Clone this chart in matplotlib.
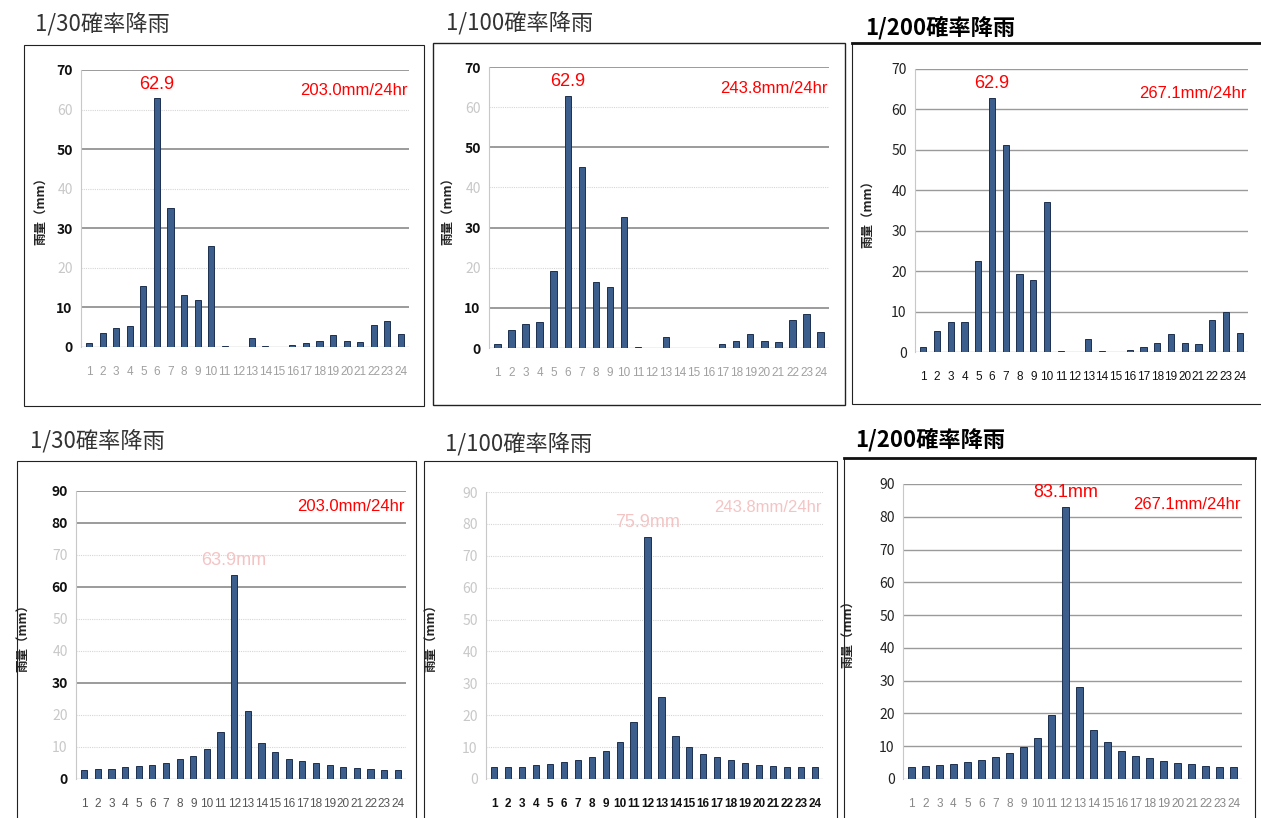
import matplotlib
matplotlib.use('Agg')
import matplotlib.pyplot as plt
from matplotlib.patches import Rectangle

plt.rcParams['font.family'] = ['Noto Sans CJK JP', 'DejaVu Sans']

# HOURLY RAINFALL DATA (mm per hour, hours 1-24)

hours = list(range(1, 25))

# Top row: observed pattern scaled to each return period
rain_30_top = [1.0, 3.6, 4.9, 5.2, 15.3, 62.9, 35.0, 13.1, 11.8, 25.5, 0.2, 0.0,
               2.3, 0.2, 0.0, 0.6, 1.0, 1.6, 3.0, 1.6, 1.3, 5.5, 6.5, 3.2]
rain_100_top = [1.1, 4.6, 6.0, 6.4, 19.3, 62.9, 45.2, 16.5, 15.2, 32.6, 0.2, 0.0,
                2.7, 0.1, 0.0, 0.1, 1.1, 1.7, 3.6, 1.7, 1.6, 7.0, 8.5, 3.9]
rain_200_top = [1.3, 5.3, 7.4, 7.4, 22.5, 62.9, 51.3, 19.3, 17.8, 37.1, 0.3, 0.0,
                3.1, 0.3, 0.0, 0.4, 1.3, 2.3, 4.4, 2.3, 1.9, 8.0, 10.0, 4.6]

# Bottom row: centred (design storm) pattern
rain_30_bot = [2.9, 3.2, 3.2, 3.8, 4.2, 4.5, 5.0, 6.2, 7.1, 9.5, 14.7, 63.9,
               21.3, 11.4, 8.3, 6.4, 5.6, 5.0, 4.4, 3.8, 3.5, 3.2, 2.9, 2.9]
rain_100_bot = [3.7, 3.9, 3.9, 4.4, 4.7, 5.3, 5.9, 7.0, 8.8, 11.5, 17.8, 75.9,
                25.8, 13.6, 10.1, 7.7, 6.8, 5.9, 5.0, 4.5, 4.1, 3.9, 3.7, 3.7]
rain_200_bot = [3.8, 4.0, 4.4, 4.7, 5.3, 5.9, 6.6, 7.9, 9.7, 12.5, 19.5, 83.1,
                28.0, 14.8, 11.2, 8.4, 7.1, 6.3, 5.5, 5.0, 4.6, 4.0, 3.8, 3.8]

titles = ['1/30確率降雨', '1/100確率降雨', '1/200確率降雨']
totals = ['203.0mm/24hr', '243.8mm/24hr', '267.1mm/24hr']
ylabel = '雨量（mm）'

W, H = 1261, 818
fig = plt.figure(figsize=(W / 100, H / 100), dpi=100)
fig.patch.set_facecolor('white')

BAR = '#3b5e8c'
EDGE = '#1e3050'
NARROW = ['Liberation Sans Narrow', 'Liberation Sans', 'DejaVu Sans']


def px_axes(l, t, r, b):
    # axes placed by pixel edges (left, top, right, bottom)
    return fig.add_axes([l / W, 1 - b / H, (r - l) / W, (b - t) / H])


def px_box(l, t, r, b, lw=0.8, top_lw=None):
    fig.add_artist(Rectangle((l / W, 1 - b / H), (r - l) / W, (b - t) / H,
                             transform=fig.transFigure, fill=False,
                             ec='#222222', lw=lw))
    if top_lw:
        fig.add_artist(plt.Line2D([l / W, r / W], [1 - t / H, 1 - t / H],
                                  transform=fig.transFigure, color='#111111', lw=top_lw))


def panel(ax, values, ymax, strong, tick_col, xtick_col, xtick_weight,
          peak_text, peak_col, total, total_col, total_y, ylab_x):
    x = hours
    ax.bar(x, values, width=0.45, color=BAR, edgecolor=EDGE, linewidth=0.7, zorder=3)
    ax.set_xlim(0.4, 24.6)
    ax.set_ylim(0, ymax)
    ticks = list(range(0, ymax + 1, 10))
    ax.set_yticks(ticks)
    ax.set_yticklabels([str(t) for t in ticks])
    for t, lab in zip(ticks, ax.get_yticklabels()):
        if strong is None:
            lab.set_color(tick_col)
        elif t in strong:
            lab.set_color('#111111')
            lab.set_fontweight('bold')
        else:
            lab.set_color('#c8c8c8')
        lab.set_fontsize(10)
    # gridlines drawn by hand so each level can have its own weight
    for t in ticks[1:]:
        if strong is None:
            ax.axhline(t, color='#9a9a9a', lw=1.0, zorder=1)
        elif t in strong:
            ax.axhline(t, color='#8a8a8a', lw=1.2, zorder=1)
        else:
            ax.axhline(t, color='#d6d6d6', lw=0.8, ls=(0, (1, 1)), zorder=1)
    ax.axhline(0, color='#bbbbbb', lw=1.0, zorder=2)
    ax.set_xticks(x)
    ax.set_xticklabels([str(h) for h in x], fontsize=8.5, color=xtick_col,
                       fontweight=xtick_weight, family=NARROW)
    ax.tick_params(axis='both', length=0, pad=6)
    ax.tick_params(axis='x', pad=14)
    for s in ['top', 'right', 'bottom']:
        ax.spines[s].set_visible(False)
    ax.spines['left'].set_color('#c8c8c8')
    ax.spines['left'].set_linewidth(0.8)
    ax.set_facecolor('none')

    # annotations
    i = values.index(max(values))
    if peak_text:
        ax.text(x[i], max(values) + ymax * 0.02, peak_text, ha='center', va='bottom',
                color=peak_col, fontsize=13, family=NARROW)
    ax.text(0.995, total_y, total, transform=ax.transAxes, ha='right', va='center',
            color=total_col, fontsize=12, family=NARROW)
    ax.text(ylab_x, 0.5, ylabel, transform=ax.transAxes, rotation=90,
            ha='center', va='center', fontsize=9, fontweight='bold', color='#222222')


# --- top row ---
px_box(24, 45, 424, 406)
px_box(433, 43, 845, 405, lw=1.0)
px_box(852, 43, 1262, 404, top_lw=2.0)

ax1 = px_axes(81, 70, 409, 347)
panel(ax1, rain_30_top, 70, {70, 50, 30, 10, 0}, None, '#a0a0a0', 'normal',
      '62.9', 'red', totals[0], 'red', 0.925, -0.12)
ax2 = px_axes(489, 67, 829, 348)
panel(ax2, rain_100_top, 70, {70, 50, 30, 10, 0}, None, '#a0a0a0', 'normal',
      '62.9', 'red', totals[1], 'red', 0.925, -0.12)
ax3 = px_axes(915, 69, 1248, 352)
panel(ax3, rain_200_top, 70, None, '#222222', '#111111', 'normal',
      '62.9', 'red', totals[2], 'red', 0.915, -0.14)

fig.text(35 / W, 1 - 25 / H, titles[0], fontsize=16, color='#333333', va='center')
fig.text(446 / W, 1 - 24 / H, titles[1], fontsize=16, color='#333333', va='center')
fig.text(865 / W, 1 - 28 / H, titles[2], fontsize=16, color='#000000', va='center',
         fontweight='bold')

# --- bottom row ---
px_box(17, 461, 416, 830)
px_box(424, 461, 837, 830)
px_box(844, 458, 1255, 830, top_lw=2.0)

ax4 = px_axes(76, 491, 406, 779)
panel(ax4, rain_30_bot, 90, {90, 80, 60, 30, 0}, None, '#555555', 'normal',
      '%.1fmm' % max(rain_30_bot), '#f4c4c4', totals[0], 'red', 0.945, -0.16)
ax5 = px_axes(486, 492, 823, 779)
panel(ax5, rain_100_bot, 90, set(), None, '#111111', 'bold',
      '%.1fmm' % max(rain_100_bot), '#f4c4c4', totals[1], '#f4c4c4', 0.945, -0.16)
ax6 = px_axes(903, 484, 1242, 779)
panel(ax6, rain_200_bot, 90, None, '#222222', '#888888', 'normal',
      '%.1fmm' % max(rain_200_bot), 'red', totals[2], 'red', 0.93, -0.16)

fig.text(30 / W, 1 - 442 / H, titles[0], fontsize=16, color='#333333', va='center')
fig.text(445 / W, 1 - 445 / H, titles[1], fontsize=16, color='#333333', va='center')
fig.text(855 / W, 1 - 440 / H, titles[2], fontsize=16, color='#000000', va='center',
         fontweight='bold')

fig.savefig('out.png', dpi=100, facecolor='white')
